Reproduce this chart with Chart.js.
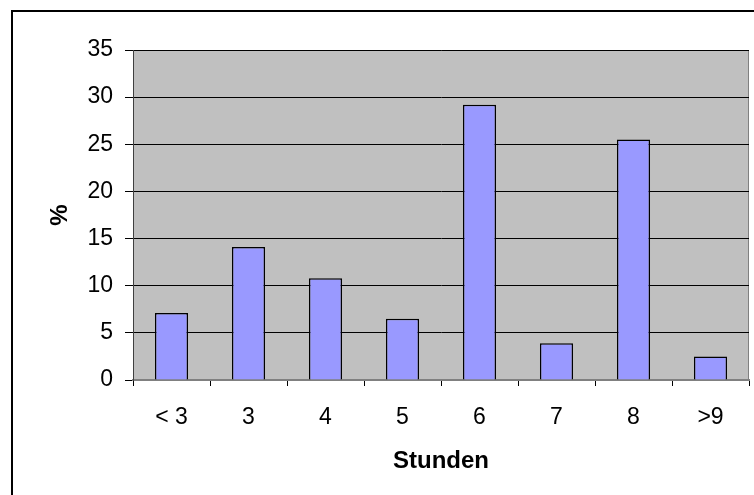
<!DOCTYPE html>
<html>
<head>
<meta charset="utf-8">
<script src="https://cdn.jsdelivr.net/npm/chart.js@4"></script>
<style>
  html, body { margin: 0; padding: 0; background: #fff; }
  #wrap { width: 754px; height: 495px; }
</style>
</head>
<body>
<div id="wrap"><canvas id="chart" width="754" height="495"></canvas></div>
<script>
const categories = ['< 3', '3', '4', '5', '6', '7', '8', '>9'];
const percentValues = [7.1, 14.1, 10.8, 6.5, 29.2, 3.9, 25.5, 2.5];
const yTicks = [0, 5, 10, 15, 20, 25, 30, 35];

const FONT = '"Liberation Sans", Arial, sans-serif';

// grey plot area + outer frame, like the old Excel chart
const frame = {
  id: 'frame',
  beforeDraw(chart) {
    const ctx = chart.ctx, a = chart.chartArea;
    ctx.save();
    ctx.fillStyle = '#fff';
    ctx.fillRect(0, 0, chart.width, chart.height);
    ctx.strokeStyle = '#000';
    ctx.lineWidth = 2;
    ctx.strokeRect(12, 11, chart.width + 20, chart.height + 20);
    ctx.fillStyle = '#c0c0c0';
    ctx.fillRect(a.left, a.top, a.right - a.left, a.bottom - a.top);
    ctx.strokeStyle = '#808080';
    ctx.lineWidth = 1;
    ctx.strokeRect(a.left + 0.5, a.top + 0.5, a.right - a.left - 1, a.bottom - a.top);
    ctx.restore();
  }
};

new Chart(document.getElementById('chart'), {
  type: 'bar',
  data: {
    labels: categories,
    datasets: [{
      data: percentValues,
      backgroundColor: '#9999ff',
      borderColor: '#000',
      borderWidth: 1.5,
      barPercentage: 0.43,
      categoryPercentage: 1
    }]
  },
  options: {
    responsive: false,
    animation: false,
    layout: { padding: { top: 50, right: 5, left: 46, bottom: 0 } },
    plugins: { legend: { display: false }, tooltip: { enabled: false } },
    scales: {
      x: {
        grid: { display: true, drawOnChartArea: false, offset: true, color: '#000', tickLength: 6 },
        border: { color: '#808080', width: 2 },
        ticks: { color: '#000', font: { family: FONT, size: 23 }, padding: 18, maxRotation: 0 },
        title: { display: true, text: 'Stunden', color: '#000', font: { family: FONT, size: 24, weight: 'bold' }, padding: { top: 0, bottom: 19 } },
        afterFit(s) { s.height = 115; }
      },
      y: {
        min: 0, max: 35,
        afterBuildTicks(s) { s.ticks = yTicks.map(v => ({ value: v })); },
        grid: { color: '#000', tickLength: 8 },
        border: { color: '#404040', width: 1 },
        ticks: { color: '#000', font: { family: FONT, size: 23 }, padding: 12 },
        title: { display: true, text: '%', color: '#000', font: { family: FONT, size: 24, weight: 'bold' }, padding: { top: 0, bottom: 0 } },
        afterFit(s) { s.width = 133 - 46; }
      }
    }
  },
  plugins: [frame]
});
</script>
</body>
</html>
